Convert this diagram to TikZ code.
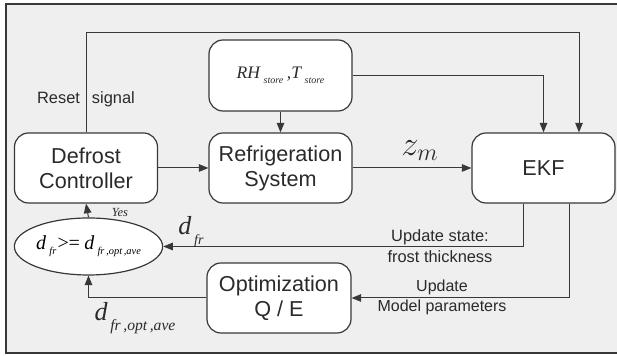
\documentclass[tikz,border=0pt]{standalone}
\usepackage{fontspec}
\setmainfont{Liberation Sans}
\newfontfamily\tms{Liberation Serif}
\usepackage{tikz}
\usetikzlibrary{arrows.meta,shapes.geometric}

\definecolor{fondo}{HTML}{EFEFEF}
\definecolor{linea}{HTML}{383838}
\definecolor{texto}{HTML}{2A2A2A}

% variable en cursiva (Times)
\newcommand{\vart}[2]{{\fontsize{#1}{#1}\selectfont\tms\itshape #2}}

\begin{document}
\begin{tikzpicture}[x=0.5pt,y=-0.5pt,
  bloque/.style={draw=linea,fill=white,rounded corners=7pt,line width=0.6pt,
    align=center,text=texto,font=\fontsize{10.8}{12.5}\selectfont,
    minimum width=71.5pt,minimum height=35pt},
  flecha/.style={draw=linea,line width=0.5pt,-{Triangle[length=4.8pt,width=3.8pt]}},
  etiq/.style={font=\fontsize{8.2}{10.5}\selectfont,text=texto,inner sep=0pt,align=center}]
\useasboundingbox (0,0) rectangle (617,356);

% marco
\fill[fondo] (6,4) rectangle (617,353);
\draw[linea,line width=0.6pt] (617,4) -- (6,4) -- (6,353) -- (617,353);

% bloques
\node[bloque] (defrost) at (86,168) {Defrost\\Controller};
\node[bloque] (refrig) at (280.5,168) {Refrigeration\\System};
\node[bloque,minimum height=35.5pt] (rh) at (280.5,75.5)
  {\vart{8.8}{RH}\,\raisebox{-2.4pt}{\vart{5}{store}}\,\vart{8.8}{,T}\,\raisebox{-2.4pt}{\vart{5}{store}}};
\node[bloque] (ekf) at (543.5,168) {EKF};
\node[bloque,minimum width=72pt] (optim) at (279,298) {Optimization\\Q / E};

% condicion
\node[ellipse,draw=linea,fill=white,line width=0.6pt,inner sep=0pt,
  minimum width=71.5pt,minimum height=28.5pt] (cond) at (88.5,246.5)
  {\vart{10}{d}\,\raisebox{-2.5pt}{\vart{5.2}{fr}}\vart{10}{>\kern-1.2pt=}\,\vart{10}{d}\,\raisebox{-2.5pt}{\vart{5.2}{fr\,,opt\,,ave}}};

% conexiones
\draw[flecha] (defrost.north) -- ++(0,-100) -| ([xshift=17.75pt]ekf.north);
\draw[flecha] (rh.east) -| (ekf.north);
\draw[flecha] (rh.south) -- (refrig.north);
\draw[flecha] (defrost.east) -- (refrig.west);
\draw[flecha] (refrig.east) -- node[above=0pt,xshift=4pt,text=texto]
  {\fontsize{17}{17}\selectfont$z_m$} (ekf.west);
\draw[flecha] ([xshift=-10.25pt]ekf.south) |- (cond.east);
\draw[flecha] ([xshift=12.75pt]ekf.south) |- (optim.east);
\draw[flecha] (optim.west) -| (cond.south);
\draw[flecha] (cond.north) -- (defrost.south);

% etiquetas
\node[etiq] (reset) at (86,99) {Reset\hspace{6pt}signal};
\node[etiq] (upstate) at (440,246) {Update state:\\frost thickness};
\node[etiq,font=\fontsize{8}{10}\selectfont] (upmodel) at (442,297) {Update\\Model parameters};
\node[etiq] (yes) at (120,213) {\vart{6.2}{Yes}};
\node[etiq] (dfr) at (191,232) {\vart{13}{d}\,\raisebox{-5pt}{\vart{7}{fr}}};
\node[etiq] (dopt) at (135,318) {\vart{13}{d}\,\raisebox{-5pt}{\vart{7.8}{fr\,,opt\,,ave}}};
\end{tikzpicture}
\end{document}
